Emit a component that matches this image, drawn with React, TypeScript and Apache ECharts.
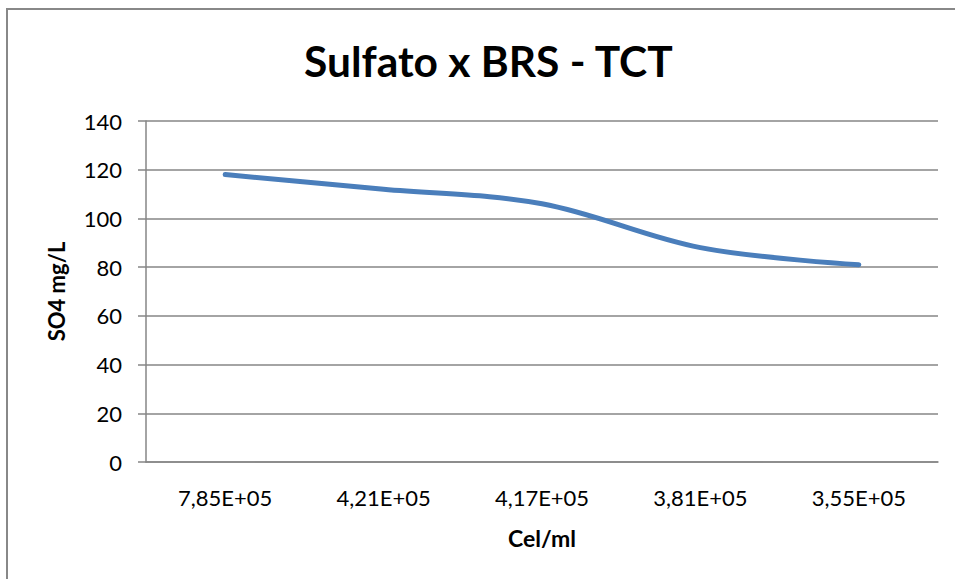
import React, { useEffect, useRef } from "react";
import * as echarts from "echarts";

const categories = ["7,85E+05", "4,21E+05", "4,17E+05", "3,81E+05", "3,55E+05"];
const so4Values = [118, 112, 106, 88, 81];
const titleText = "Sulfato x BRS - TCT";
const yAxisName = "SO4 mg/L";
const xAxisName = "Cel/ml";

export default function App() {
  const ref = useRef<HTMLDivElement>(null);
  useEffect(() => {
    if (!ref.current) return;
    const chart = echarts.init(ref.current, undefined, { renderer: "svg" });
    const font = "Lato, 'Open Sans', sans-serif";
    chart.setOption({
      animation: false,
      backgroundColor: "#ffffff",
      title: {
        text: titleText,
        left: 299,
        top: 34,
        textStyle: { fontFamily: font, fontWeight: "bold", fontSize: 42.5, color: "#000" },
      },
      graphic: [
        {
          type: "rect",
          shape: { x: 7, y: 9, width: 1000, height: 700 },
          style: { fill: "none", stroke: "#888888", lineWidth: 2 },
        },
      ],
      grid: { left: 146, right: 17, top: 121, bottom: 117 },
      xAxis: {
        type: "category",
        data: categories,
        boundaryGap: true,
        name: xAxisName,
        nameLocation: "middle",
        nameGap: 64,
        nameTextStyle: { fontFamily: font, fontWeight: "bold", fontSize: 23, color: "#000" },
        axisLine: { show: true, lineStyle: { color: "#868686", width: 1.5 } },
        axisTick: { show: false },
        axisLabel: { fontFamily: font, fontSize: 22, color: "#000", margin: 24 },
      },
      yAxis: {
        type: "value",
        min: 0,
        max: 140,
        interval: 20,
        name: yAxisName,
        nameLocation: "middle",
        nameGap: 79,
        nameTextStyle: { fontFamily: font, fontWeight: "bold", fontSize: 22, color: "#000" },
        axisLine: { show: true, lineStyle: { color: "#868686", width: 1.5 } },
        axisTick: { show: true, length: 8, inside: false, lineStyle: { color: "#868686", width: 1.5 } },
        axisLabel: { fontFamily: font, fontSize: 22, color: "#000", margin: 24 },
        splitLine: { show: true, lineStyle: { color: "#868686", width: 1.5 } },
      },
      series: [
        {
          type: "line",
          data: so4Values,
          smooth: 0.35,
          showSymbol: false,
          symbol: "none",
          lineStyle: { color: "#4a7ebb", width: 5, cap: "round" },
        },
      ],
    });
    return () => chart.dispose();
  }, []);
  return (
    <div
      ref={ref}
      style={{ position: "fixed", left: 0, top: 0, width: 955, height: 579 }}
    />
  );
}
